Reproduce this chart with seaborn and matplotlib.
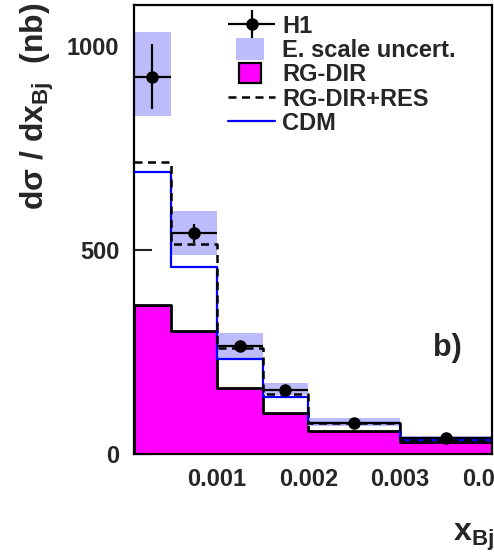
import matplotlib
matplotlib.use("Agg")
import numpy as np
import pandas as pd
import seaborn as sns
import matplotlib.pyplot as plt
from matplotlib.lines import Line2D
from matplotlib.patches import Patch, Rectangle
from matplotlib.legend_handler import HandlerPatch, HandlerErrorbar

# ---- data ----
edges = [0.0001, 0.0005, 0.001, 0.0015, 0.002, 0.003, 0.004]
h1 = [924, 541, 265, 156, 77, 38]
h1_err = [80, 23, 9, 6, 5, 4]
escale_lo = [829, 488, 235, 145, 68, 31]
escale_hi = [1034, 596, 296, 174, 89, 43]
rg_dir = [365, 301, 162, 101, 57, 29]
rg_dir_res = [715, 515, 260, 147, 77, 35]
cdm = [691, 459, 233, 140, 76, 35]
xticks = [0.001, 0.002, 0.003, 0.004]
xtick_labels = ["0.001", "0.002", "0.003", "0.004"]
yticks = [0, 500, 1000]
labels = ["H1", "E. scale uncert.", "RG-DIR", "RG-DIR+RES", "CDM"]

edges_a = np.array(edges)
centers = (edges_a[:-1] + edges_a[1:]) / 2
widths = np.diff(edges_a)
df = pd.DataFrame({"x": centers, "rg": rg_dir, "res": rg_dir_res, "cdm": cdm})

sns.set_theme(style="ticks")
plt.rcParams["font.family"] = ["Liberation Sans", "DejaVu Sans"]
plt.rcParams["font.weight"] = "bold"
plt.rcParams["mathtext.fontset"] = "custom"
plt.rcParams["mathtext.rm"] = "Liberation Sans:bold"
plt.rcParams["mathtext.it"] = "Liberation Sans:bold"
plt.rcParams["mathtext.bf"] = "Liberation Sans:bold"

W, H = 494, 554
fig = plt.figure(figsize=(W / 100, H / 100), dpi=100)
ax = fig.add_axes([134 / W, 1 - 454 / H, 358 / W, 449 / H])

MAG = "#ff00ff"
LAV = "#bcbcfc"
DASH = (0, (3.2, 2.2))

sns.histplot(data=df, x="x", weights="rg", bins=edges, element="step", fill=True,
             color=MAG, alpha=1, edgecolor="black", linewidth=2.0, ax=ax, zorder=1)
ax.bar(centers, np.array(escale_hi) - np.array(escale_lo), bottom=escale_lo, width=widths,
       color=LAV, linewidth=0, zorder=2)
sns.histplot(data=df, x="x", weights="cdm", bins=edges, element="step", fill=False,
             color="#0000ff", linewidth=1.6, ax=ax, zorder=3)
sns.histplot(data=df, x="x", weights="res", bins=edges, element="step", fill=False,
             color="black", linewidth=1.8, linestyle=DASH, ax=ax, zorder=4)
eb = ax.errorbar(centers, h1, yerr=h1_err, xerr=widths / 2, fmt="o", color="black",
                 ms=8, elinewidth=1.6, capsize=0, zorder=5)

ax.set_xlim(edges[0], edges[-1])
ax.set_ylim(0, 1100)
ax.set_xticks(xticks)
ax.set_xticklabels(xtick_labels)
ax.set_yticks(yticks)
ax.tick_params(axis="y", direction="in", length=13, width=1.5, labelsize=17, pad=10.5)
ax.tick_params(axis="x", length=0, labelsize=17, pad=10)
for s in ax.spines.values():
    s.set_linewidth(1.6)
    s.set_color("black")
    s.set_visible(True)

ax.set_xlabel("")
ax.set_ylabel(r"d$\sigma$ / d$\mathbf{x_{Bj}}$  (nb)", fontsize=23, fontweight="bold", loc="top")
ax.yaxis.set_label_coords(-0.218, 1.005)
fig.text(494 / W, 1 - 553 / H, r"$\mathbf{x_{Bj}}$", fontsize=23, ha="right", va="bottom")

ax.text(0.874, 0.236, "b)", transform=ax.transAxes, fontsize=22, fontweight="bold",
        ha="center", va="center")


def box_maker(bw, bh):
    def make(legend, orig_handle, xdescent, ydescent, width, height, fontsize):
        return Rectangle((-xdescent + (width - bw) / 2 - 1, -ydescent + (height - bh) / 2),
                         bw, bh)
    return make


lav_h = Patch(facecolor=LAV, edgecolor="none")
mag_h = Patch(facecolor=MAG, edgecolor="black", linewidth=1.6)
handles = [eb, lav_h, mag_h,
           Line2D([], [], color="black", lw=1.8, ls=DASH),
           Line2D([], [], color="#0000ff", lw=1.6)]
ax.legend(handles, labels, loc="upper left", bbox_to_anchor=(228 / W, 1 - 15 / H),
          bbox_transform=fig.transFigure, frameon=False,
          prop={"size": 17, "weight": "bold"}, handlelength=2.0, handletextpad=0.3,
          labelspacing=0.05, borderpad=0, borderaxespad=0, handleheight=0.9,
          handler_map={lav_h: HandlerPatch(patch_func=box_maker(20, 16)),
                       mag_h: HandlerPatch(patch_func=box_maker(16, 14)),
                       eb: HandlerErrorbar(xerr_size=1.0, yerr_size=0.6)})

fig.savefig("out.png", dpi=100)
